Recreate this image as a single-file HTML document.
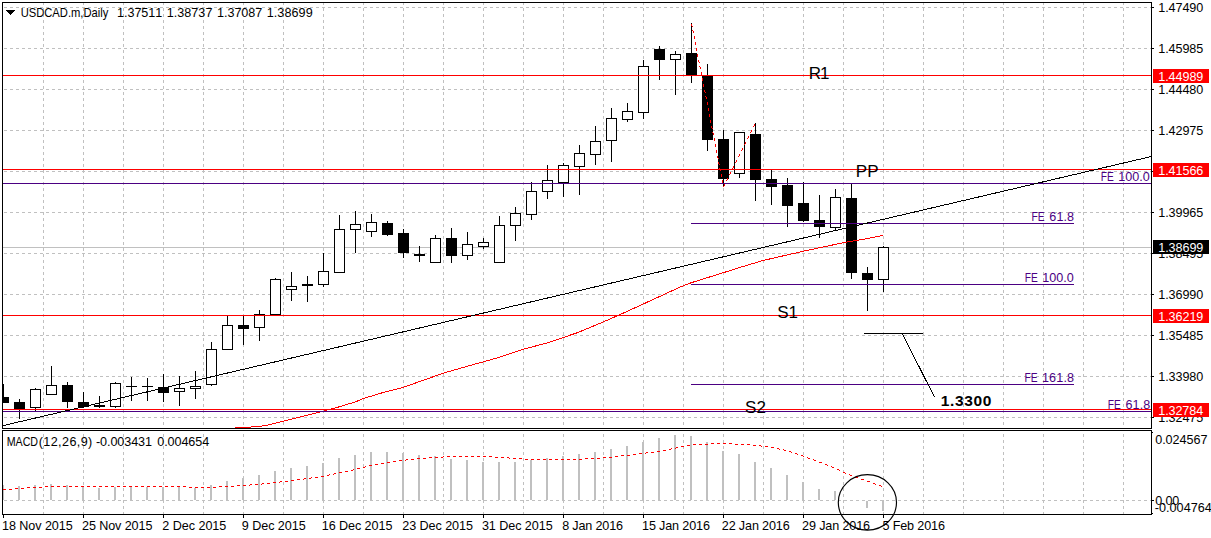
<!DOCTYPE html>
<html><head><meta charset="utf-8"><title>USDCAD.m,Daily</title>
<style>html,body{margin:0;padding:0;background:#fff}svg{display:block}text{font-family:"Liberation Sans",sans-serif;font-kerning:none}</style>
</head><body>
<svg width="1211" height="538" viewBox="0 0 1211 538">
<rect width="1211" height="538" fill="#fff"/>
<g stroke="#c0c0c0" stroke-width="1" stroke-dasharray="3 3" shape-rendering="crispEdges">
<line x1="4" y1="7.5" x2="1151" y2="7.5"/>
<line x1="4" y1="48.5" x2="1151" y2="48.5"/>
<line x1="4" y1="89.5" x2="1151" y2="89.5"/>
<line x1="4" y1="130.5" x2="1151" y2="130.5"/>
<line x1="4" y1="171.5" x2="1151" y2="171.5"/>
<line x1="4" y1="212.5" x2="1151" y2="212.5"/>
<line x1="4" y1="253.5" x2="1151" y2="253.5"/>
<line x1="4" y1="294.5" x2="1151" y2="294.5"/>
<line x1="4" y1="335.5" x2="1151" y2="335.5"/>
<line x1="4" y1="376.5" x2="1151" y2="376.5"/>
<line x1="4" y1="417.5" x2="1151" y2="417.5"/>
<line x1="43.5" y1="2" x2="43.5" y2="428"/>
<line x1="43.5" y1="434" x2="43.5" y2="514"/>
<line x1="83.5" y1="2" x2="83.5" y2="428"/>
<line x1="83.5" y1="434" x2="83.5" y2="514"/>
<line x1="123.5" y1="2" x2="123.5" y2="428"/>
<line x1="123.5" y1="434" x2="123.5" y2="514"/>
<line x1="163.5" y1="2" x2="163.5" y2="428"/>
<line x1="163.5" y1="434" x2="163.5" y2="514"/>
<line x1="203.5" y1="2" x2="203.5" y2="428"/>
<line x1="203.5" y1="434" x2="203.5" y2="514"/>
<line x1="243.5" y1="2" x2="243.5" y2="428"/>
<line x1="243.5" y1="434" x2="243.5" y2="514"/>
<line x1="283.5" y1="2" x2="283.5" y2="428"/>
<line x1="283.5" y1="434" x2="283.5" y2="514"/>
<line x1="323.5" y1="2" x2="323.5" y2="428"/>
<line x1="323.5" y1="434" x2="323.5" y2="514"/>
<line x1="363.5" y1="2" x2="363.5" y2="428"/>
<line x1="363.5" y1="434" x2="363.5" y2="514"/>
<line x1="403.5" y1="2" x2="403.5" y2="428"/>
<line x1="403.5" y1="434" x2="403.5" y2="514"/>
<line x1="443.5" y1="2" x2="443.5" y2="428"/>
<line x1="443.5" y1="434" x2="443.5" y2="514"/>
<line x1="483.5" y1="2" x2="483.5" y2="428"/>
<line x1="483.5" y1="434" x2="483.5" y2="514"/>
<line x1="523.5" y1="2" x2="523.5" y2="428"/>
<line x1="523.5" y1="434" x2="523.5" y2="514"/>
<line x1="563.5" y1="2" x2="563.5" y2="428"/>
<line x1="563.5" y1="434" x2="563.5" y2="514"/>
<line x1="603.5" y1="2" x2="603.5" y2="428"/>
<line x1="603.5" y1="434" x2="603.5" y2="514"/>
<line x1="643.5" y1="2" x2="643.5" y2="428"/>
<line x1="643.5" y1="434" x2="643.5" y2="514"/>
<line x1="683.5" y1="2" x2="683.5" y2="428"/>
<line x1="683.5" y1="434" x2="683.5" y2="514"/>
<line x1="723.5" y1="2" x2="723.5" y2="428"/>
<line x1="723.5" y1="434" x2="723.5" y2="514"/>
<line x1="763.5" y1="2" x2="763.5" y2="428"/>
<line x1="763.5" y1="434" x2="763.5" y2="514"/>
<line x1="803.5" y1="2" x2="803.5" y2="428"/>
<line x1="803.5" y1="434" x2="803.5" y2="514"/>
<line x1="843.5" y1="2" x2="843.5" y2="428"/>
<line x1="843.5" y1="434" x2="843.5" y2="514"/>
<line x1="883.5" y1="2" x2="883.5" y2="428"/>
<line x1="883.5" y1="434" x2="883.5" y2="514"/>
<line x1="923.5" y1="2" x2="923.5" y2="428"/>
<line x1="923.5" y1="434" x2="923.5" y2="514"/>
<line x1="963.5" y1="2" x2="963.5" y2="428"/>
<line x1="963.5" y1="434" x2="963.5" y2="514"/>
<line x1="1003.5" y1="2" x2="1003.5" y2="428"/>
<line x1="1003.5" y1="434" x2="1003.5" y2="514"/>
<line x1="1043.5" y1="2" x2="1043.5" y2="428"/>
<line x1="1043.5" y1="434" x2="1043.5" y2="514"/>
<line x1="1083.5" y1="2" x2="1083.5" y2="428"/>
<line x1="1083.5" y1="434" x2="1083.5" y2="514"/>
<line x1="1123.5" y1="2" x2="1123.5" y2="428"/>
<line x1="1123.5" y1="434" x2="1123.5" y2="514"/>
<line x1="4" y1="500.5" x2="1151" y2="500.5"/>
</g>
<g fill="#c0c0c0" shape-rendering="crispEdges">
<rect x="2" y="485" width="2" height="15"/>
<rect x="18" y="486" width="2" height="14"/>
<rect x="34" y="485" width="2" height="15"/>
<rect x="50" y="484" width="2" height="16"/>
<rect x="66" y="485" width="2" height="15"/>
<rect x="82" y="487" width="2" height="13"/>
<rect x="98" y="488" width="2" height="12"/>
<rect x="114" y="487" width="2" height="13"/>
<rect x="130" y="487" width="2" height="13"/>
<rect x="146" y="487" width="2" height="13"/>
<rect x="162" y="487" width="2" height="13"/>
<rect x="178" y="487" width="2" height="13"/>
<rect x="194" y="488" width="2" height="12"/>
<rect x="210" y="485" width="2" height="15"/>
<rect x="226" y="481" width="2" height="19"/>
<rect x="242" y="478" width="2" height="22"/>
<rect x="258" y="475" width="2" height="25"/>
<rect x="274" y="471" width="2" height="29"/>
<rect x="290" y="468" width="2" height="32"/>
<rect x="306" y="466" width="2" height="34"/>
<rect x="322" y="463" width="2" height="37"/>
<rect x="338" y="458" width="2" height="42"/>
<rect x="354" y="455" width="2" height="45"/>
<rect x="370" y="452" width="2" height="48"/>
<rect x="386" y="452" width="2" height="48"/>
<rect x="402" y="453" width="2" height="47"/>
<rect x="418" y="455" width="2" height="45"/>
<rect x="434" y="456" width="2" height="44"/>
<rect x="450" y="459" width="2" height="41"/>
<rect x="466" y="460" width="2" height="40"/>
<rect x="482" y="462" width="2" height="38"/>
<rect x="498" y="462" width="2" height="38"/>
<rect x="514" y="462" width="2" height="38"/>
<rect x="530" y="460" width="2" height="40"/>
<rect x="546" y="458" width="2" height="42"/>
<rect x="562" y="456" width="2" height="44"/>
<rect x="578" y="454" width="2" height="46"/>
<rect x="594" y="452" width="2" height="48"/>
<rect x="610" y="449" width="2" height="51"/>
<rect x="626" y="446" width="2" height="54"/>
<rect x="642" y="442" width="2" height="58"/>
<rect x="658" y="438" width="2" height="62"/>
<rect x="674" y="435" width="2" height="65"/>
<rect x="690" y="436" width="2" height="64"/>
<rect x="706" y="442" width="2" height="58"/>
<rect x="722" y="451" width="2" height="49"/>
<rect x="738" y="454" width="2" height="46"/>
<rect x="754" y="462" width="2" height="38"/>
<rect x="770" y="468" width="2" height="32"/>
<rect x="786" y="475" width="2" height="25"/>
<rect x="802" y="482" width="2" height="18"/>
<rect x="818" y="489" width="2" height="11"/>
<rect x="834" y="491" width="2" height="9"/>
<rect x="866" y="501" width="2" height="7"/>
<rect x="882" y="501" width="2" height="10"/>
</g>
<path d="M711 443h3v1h-3zM717 443h3v1h-3zM723 443h3v1h-3zM729 443h3v1h-3zM693 444h3v1h-3zM699 444h3v1h-3zM705 444h3v1h-3zM735 444h3v1h-3zM741 444h3v1h-3zM747 444h3v1h-3zM687 445h3v1h-3zM753 445h3v1h-3zM759 445h2v1h-2zM681 446h3v1h-3zM761 446h1v1h-1zM765 446h3v1h-3zM676 447h2v1h-2zM771 447h3v1h-3zM671 448h1v1h-1zM675 448h1v1h-1zM777 448h2v1h-2zM669 449h2v1h-2zM779 449h1v1h-1zM783 449h1v1h-1zM663 450h3v1h-3zM784 450h2v1h-2zM657 451h3v1h-3zM789 451h2v1h-2zM646 452h2v1h-2zM651 452h3v1h-3zM791 452h1v1h-1zM639 453h3v1h-3zM645 453h1v1h-1zM795 453h2v1h-2zM633 454h3v1h-3zM797 454h1v1h-1zM621 455h3v1h-3zM627 455h3v1h-3zM801 455h2v1h-2zM443 456h1v1h-1zM447 456h3v1h-3zM453 456h3v1h-3zM459 456h3v1h-3zM465 456h3v1h-3zM471 456h3v1h-3zM477 456h3v1h-3zM483 456h3v1h-3zM489 456h3v1h-3zM615 456h3v1h-3zM803 456h1v1h-1zM429 457h3v1h-3zM435 457h3v1h-3zM441 457h2v1h-2zM495 457h3v1h-3zM501 457h3v1h-3zM507 457h2v1h-2zM603 457h3v1h-3zM609 457h3v1h-3zM807 457h1v1h-1zM417 458h3v1h-3zM423 458h3v1h-3zM509 458h1v1h-1zM513 458h3v1h-3zM519 458h3v1h-3zM585 458h3v1h-3zM591 458h3v1h-3zM597 458h3v1h-3zM808 458h2v1h-2zM406 459h2v1h-2zM411 459h3v1h-3zM525 459h3v1h-3zM531 459h3v1h-3zM537 459h3v1h-3zM543 459h3v1h-3zM549 459h3v1h-3zM555 459h3v1h-3zM561 459h3v1h-3zM567 459h3v1h-3zM573 459h3v1h-3zM579 459h3v1h-3zM813 459h1v1h-1zM399 460h3v1h-3zM405 460h1v1h-1zM814 460h2v1h-2zM393 461h3v1h-3zM387 462h3v1h-3zM819 462h3v1h-3zM381 463h3v1h-3zM375 464h3v1h-3zM825 464h2v1h-2zM369 465h3v1h-3zM827 465h1v1h-1zM365 466h1v1h-1zM831 466h1v1h-1zM363 467h2v1h-2zM832 467h2v1h-2zM357 468h3v1h-3zM353 469h1v1h-1zM837 469h2v1h-2zM351 470h2v1h-2zM839 470h1v1h-1zM345 471h3v1h-3zM339 472h3v1h-3zM843 472h2v1h-2zM334 473h2v1h-2zM845 473h1v1h-1zM329 474h1v1h-1zM333 474h1v1h-1zM849 474h1v1h-1zM327 475h2v1h-2zM850 475h2v1h-2zM321 476h3v1h-3zM311 477h1v1h-1zM315 477h3v1h-3zM855 477h3v1h-3zM304 478h2v1h-2zM309 478h2v1h-2zM297 479h3v1h-3zM303 479h1v1h-1zM861 479h3v1h-3zM291 480h3v1h-3zM280 481h2v1h-2zM285 481h3v1h-3zM867 481h3v1h-3zM273 482h3v1h-3zM279 482h1v1h-1zM262 483h2v1h-2zM267 483h3v1h-3zM873 483h2v1h-2zM250 484h2v1h-2zM255 484h3v1h-3zM261 484h1v1h-1zM875 484h1v1h-1zM237 485h3v1h-3zM243 485h3v1h-3zM249 485h1v1h-1zM879 485h2v1h-2zM45 486h3v1h-3zM51 486h3v1h-3zM57 486h3v1h-3zM63 486h3v1h-3zM69 486h3v1h-3zM75 486h3v1h-3zM81 486h3v1h-3zM87 486h3v1h-3zM93 486h3v1h-3zM99 486h3v1h-3zM105 486h3v1h-3zM111 486h3v1h-3zM117 486h3v1h-3zM123 486h3v1h-3zM129 486h3v1h-3zM135 486h3v1h-3zM141 486h3v1h-3zM147 486h3v1h-3zM153 486h3v1h-3zM159 486h3v1h-3zM165 486h3v1h-3zM171 486h3v1h-3zM177 486h3v1h-3zM183 486h3v1h-3zM219 486h3v1h-3zM225 486h3v1h-3zM231 486h3v1h-3zM881 486h1v1h-1zM27 487h3v1h-3zM33 487h3v1h-3zM39 487h3v1h-3zM189 487h3v1h-3zM195 487h3v1h-3zM201 487h3v1h-3zM207 487h3v1h-3zM213 487h3v1h-3zM15 488h3v1h-3zM21 488h3v1h-3zM3 489h3v1h-3zM9 489h3v1h-3z" fill="#ff0000" shape-rendering="crispEdges"/>
<line x1="3" y1="247.5" x2="1151" y2="247.5" stroke="#c0c0c0" shape-rendering="crispEdges"/>
<g shape-rendering="crispEdges" stroke="#000" stroke-width="1">
<line x1="3.5" y1="384" x2="3.5" y2="403"/>
<rect x="-2" y="397" width="11" height="6" fill="#000" stroke="none"/>
<line x1="19.5" y1="399" x2="19.5" y2="419"/>
<rect x="14" y="402" width="11" height="7" fill="#000" stroke="none"/>
<line x1="35.5" y1="388" x2="35.5" y2="411"/>
<rect x="30.5" y="389.5" width="10" height="18" fill="#fff"/>
<line x1="51.5" y1="366" x2="51.5" y2="395"/>
<rect x="46.5" y="385.5" width="10" height="9" fill="#fff"/>
<line x1="67.5" y1="382" x2="67.5" y2="408"/>
<rect x="62" y="385" width="11" height="17" fill="#000" stroke="none"/>
<line x1="83.5" y1="392" x2="83.5" y2="408"/>
<rect x="78" y="402" width="11" height="5" fill="#000" stroke="none"/>
<line x1="99.5" y1="396" x2="99.5" y2="408"/>
<rect x="94" y="405" width="11" height="2" fill="#000" stroke="none"/>
<line x1="115.5" y1="382" x2="115.5" y2="408"/>
<rect x="110.5" y="383.5" width="10" height="23" fill="#fff"/>
<line x1="131.5" y1="377" x2="131.5" y2="401"/>
<rect x="126" y="386" width="11" height="1" fill="#000" stroke="none"/>
<line x1="147.5" y1="378" x2="147.5" y2="401"/>
<rect x="142" y="386" width="11" height="1" fill="#000" stroke="none"/>
<line x1="163.5" y1="374" x2="163.5" y2="402"/>
<rect x="158" y="387" width="11" height="6" fill="#000" stroke="none"/>
<line x1="179.5" y1="376" x2="179.5" y2="406"/>
<rect x="174.5" y="388.5" width="10" height="3" fill="#fff"/>
<line x1="195.5" y1="371" x2="195.5" y2="399"/>
<rect x="190.5" y="386.5" width="10" height="2" fill="#fff"/>
<line x1="211.5" y1="342" x2="211.5" y2="386"/>
<rect x="206.5" y="349.5" width="10" height="35" fill="#fff"/>
<line x1="227.5" y1="316" x2="227.5" y2="350"/>
<rect x="222.5" y="325.5" width="10" height="24" fill="#fff"/>
<line x1="243.5" y1="316" x2="243.5" y2="345"/>
<rect x="238" y="325" width="11" height="4" fill="#000" stroke="none"/>
<line x1="259.5" y1="310" x2="259.5" y2="341"/>
<rect x="254.5" y="314.5" width="10" height="13" fill="#fff"/>
<line x1="275.5" y1="278" x2="275.5" y2="315"/>
<rect x="270.5" y="279.5" width="10" height="35" fill="#fff"/>
<line x1="291.5" y1="272" x2="291.5" y2="301"/>
<rect x="286.5" y="286.5" width="10" height="3" fill="#fff"/>
<line x1="307.5" y1="276" x2="307.5" y2="302"/>
<rect x="302" y="284" width="11" height="2" fill="#000" stroke="none"/>
<line x1="323.5" y1="253" x2="323.5" y2="287"/>
<rect x="318.5" y="271.5" width="10" height="13" fill="#fff"/>
<line x1="339.5" y1="215" x2="339.5" y2="273"/>
<rect x="334.5" y="229.5" width="10" height="43" fill="#fff"/>
<line x1="355.5" y1="211" x2="355.5" y2="253"/>
<rect x="350.5" y="224.5" width="10" height="5" fill="#fff"/>
<line x1="371.5" y1="214" x2="371.5" y2="237"/>
<rect x="366.5" y="222.5" width="10" height="9" fill="#fff"/>
<line x1="387.5" y1="221" x2="387.5" y2="236"/>
<rect x="382" y="223" width="11" height="12" fill="#000" stroke="none"/>
<line x1="403.5" y1="229" x2="403.5" y2="258"/>
<rect x="398" y="233" width="11" height="20" fill="#000" stroke="none"/>
<line x1="419.5" y1="246" x2="419.5" y2="262"/>
<rect x="414" y="254" width="11" height="2" fill="#000" stroke="none"/>
<line x1="435.5" y1="235" x2="435.5" y2="263"/>
<rect x="430.5" y="238.5" width="10" height="24" fill="#fff"/>
<line x1="451.5" y1="228" x2="451.5" y2="263"/>
<rect x="446" y="238" width="11" height="18" fill="#000" stroke="none"/>
<line x1="467.5" y1="232" x2="467.5" y2="260"/>
<rect x="462.5" y="244.5" width="10" height="11" fill="#fff"/>
<line x1="483.5" y1="238" x2="483.5" y2="249"/>
<rect x="478.5" y="242.5" width="10" height="4" fill="#fff"/>
<line x1="499.5" y1="216" x2="499.5" y2="263"/>
<rect x="494.5" y="225.5" width="10" height="37" fill="#fff"/>
<line x1="515.5" y1="207" x2="515.5" y2="241"/>
<rect x="510.5" y="213.5" width="10" height="12" fill="#fff"/>
<line x1="531.5" y1="182" x2="531.5" y2="220"/>
<rect x="526.5" y="191.5" width="10" height="23" fill="#fff"/>
<line x1="547.5" y1="165" x2="547.5" y2="199"/>
<rect x="542.5" y="180.5" width="10" height="11" fill="#fff"/>
<line x1="563.5" y1="163" x2="563.5" y2="197"/>
<rect x="558.5" y="165.5" width="10" height="17" fill="#fff"/>
<line x1="579.5" y1="145" x2="579.5" y2="195"/>
<rect x="574.5" y="153.5" width="10" height="13" fill="#fff"/>
<line x1="595.5" y1="126" x2="595.5" y2="165"/>
<rect x="590.5" y="141.5" width="10" height="13" fill="#fff"/>
<line x1="611.5" y1="108" x2="611.5" y2="162"/>
<rect x="606.5" y="118.5" width="10" height="22" fill="#fff"/>
<line x1="627.5" y1="103" x2="627.5" y2="122"/>
<rect x="622.5" y="111.5" width="10" height="8" fill="#fff"/>
<line x1="643.5" y1="60" x2="643.5" y2="119"/>
<rect x="638.5" y="66.5" width="10" height="46" fill="#fff"/>
<line x1="659.5" y1="46" x2="659.5" y2="80"/>
<rect x="654" y="49" width="11" height="11" fill="#000" stroke="none"/>
<line x1="675.5" y1="51" x2="675.5" y2="95"/>
<rect x="670.5" y="54.5" width="10" height="5" fill="#fff"/>
<line x1="691.5" y1="23" x2="691.5" y2="83"/>
<rect x="686" y="53" width="11" height="23" fill="#000" stroke="none"/>
<line x1="707.5" y1="64" x2="707.5" y2="151"/>
<rect x="702" y="75" width="11" height="65" fill="#000" stroke="none"/>
<line x1="723.5" y1="130" x2="723.5" y2="186"/>
<rect x="718" y="139" width="11" height="40" fill="#000" stroke="none"/>
<line x1="739.5" y1="132" x2="739.5" y2="178"/>
<rect x="734.5" y="132.5" width="10" height="41" fill="#fff"/>
<line x1="755.5" y1="123" x2="755.5" y2="201"/>
<rect x="750" y="134" width="11" height="46" fill="#000" stroke="none"/>
<line x1="771.5" y1="170" x2="771.5" y2="205"/>
<rect x="766" y="179" width="11" height="8" fill="#000" stroke="none"/>
<line x1="787.5" y1="178" x2="787.5" y2="227"/>
<rect x="782" y="185" width="11" height="21" fill="#000" stroke="none"/>
<line x1="803.5" y1="182" x2="803.5" y2="222"/>
<rect x="798" y="203" width="11" height="18" fill="#000" stroke="none"/>
<line x1="819.5" y1="195" x2="819.5" y2="238"/>
<rect x="814" y="220" width="11" height="7" fill="#000" stroke="none"/>
<line x1="835.5" y1="189" x2="835.5" y2="231"/>
<rect x="830.5" y="197.5" width="10" height="30" fill="#fff"/>
<line x1="851.5" y1="184" x2="851.5" y2="279"/>
<rect x="846" y="198" width="11" height="75" fill="#000" stroke="none"/>
<line x1="867.5" y1="267" x2="867.5" y2="311"/>
<rect x="862" y="273" width="11" height="7" fill="#000" stroke="none"/>
<line x1="883.5" y1="246" x2="883.5" y2="292"/>
<rect x="878.5" y="247.5" width="10" height="32" fill="#fff"/>
</g>
<polyline points="235,427.7 243,427.55 259,426.45 267.4,425.2 283.6,421.06 299.8,417.07 316,412.96 323.4,411.1 339.6,406.7 355.8,401.75 363.3,398.6 380,393.4 403,387.4 443,373.3 460,368.3 497,358 523,349.3 548,342.7 578.5,332.3 603.6,321.8 618.6,315.2 643.7,303.8 660,296.3 680,287.1 691,282.8 723,272.8 740,267.4 763,260.5 787.3,254.9 803.5,251.2 819.7,247.7 835.9,244.3 851.5,241.2 867,238.7 883.4,235.3" fill="none" stroke="#ff0000" stroke-width="1" shape-rendering="crispEdges"/>
<g shape-rendering="crispEdges" stroke-width="1">
<line x1="3" y1="183.5" x2="1151" y2="183.5" stroke="#4b0082"/>
<line x1="3" y1="411.5" x2="1151" y2="411.5" stroke="#4b0082"/>
<line x1="691" y1="223.5" x2="1074" y2="223.5" stroke="#4b0082"/>
<line x1="691" y1="284.5" x2="1074" y2="284.5" stroke="#4b0082"/>
<line x1="691" y1="384.5" x2="1074" y2="384.5" stroke="#4b0082"/>
<line x1="3" y1="75.5" x2="1151" y2="75.5" stroke="#ff0000"/>
<line x1="3" y1="169.5" x2="1151" y2="169.5" stroke="#ff0000"/>
<line x1="3" y1="315.5" x2="1151" y2="315.5" stroke="#ff0000"/>
<line x1="3" y1="409.5" x2="1151" y2="409.5" stroke="#ff0000"/>
</g>
<line x1="2" y1="425.87" x2="1151" y2="156.57" stroke="#000" stroke-width="1" shape-rendering="crispEdges"/>
<path d="M691 24h1v1h-1zM691 25h1v1h-1zM692 26h1v1h-1zM692 30h1v1h-1zM693 31h1v1h-1zM693 32h1v1h-1zM694 36h1v1h-1zM694 37h1v1h-1zM694 38h1v1h-1zM695 42h1v1h-1zM695 43h1v1h-1zM695 44h1v1h-1zM696 48h1v1h-1zM696 49h1v1h-1zM696 50h1v1h-1zM697 54h1v1h-1zM697 55h1v1h-1zM697 56h1v1h-1zM698 60h1v1h-1zM698 61h1v1h-1zM699 62h1v1h-1zM699 66h1v1h-1zM700 67h1v1h-1zM700 68h1v1h-1zM701 72h1v1h-1zM701 73h1v1h-1zM701 74h1v1h-1zM702 78h1v1h-1zM702 79h1v1h-1zM702 80h1v1h-1zM703 84h1v1h-1zM703 85h1v1h-1zM703 86h1v1h-1zM704 90h1v1h-1zM704 91h1v1h-1zM705 92h1v1h-1zM705 96h1v1h-1zM706 97h1v1h-1zM706 98h1v1h-1zM707 102h1v1h-1zM707 103h1v1h-1zM707 104h1v1h-1zM708 108h1v1h-1zM708 109h1v1h-1zM708 110h1v1h-1zM709 114h1v1h-1zM709 115h1v1h-1zM709 116h1v1h-1zM710 120h1v1h-1zM710 121h1v1h-1zM710 122h1v1h-1zM754 124h1v1h-1zM754 125h1v1h-1zM711 126h1v1h-1zM753 126h1v1h-1zM711 127h1v1h-1zM712 128h1v1h-1zM751 130h1v1h-1zM751 131h1v1h-1zM712 132h1v1h-1zM750 132h1v1h-1zM713 133h1v1h-1zM713 134h1v1h-1zM748 136h1v1h-1zM748 137h1v1h-1zM714 138h1v1h-1zM747 138h1v1h-1zM714 139h1v1h-1zM714 140h1v1h-1zM745 142h1v1h-1zM745 143h1v1h-1zM715 144h1v1h-1zM744 144h1v1h-1zM715 145h1v1h-1zM715 146h1v1h-1zM742 148h1v1h-1zM742 149h1v1h-1zM716 150h1v1h-1zM741 150h1v1h-1zM716 151h1v1h-1zM716 152h1v1h-1zM739 154h1v1h-1zM739 155h1v1h-1zM717 156h1v1h-1zM738 156h1v1h-1zM717 157h1v1h-1zM718 158h1v1h-1zM736 160h1v1h-1zM736 161h1v1h-1zM718 162h1v1h-1zM735 162h1v1h-1zM718 163h1v1h-1zM719 164h1v1h-1zM733 166h1v1h-1zM733 167h1v1h-1zM719 168h1v1h-1zM732 168h1v1h-1zM720 169h1v1h-1zM720 170h1v1h-1zM730 172h1v1h-1zM730 173h1v1h-1zM721 174h1v1h-1zM729 174h1v1h-1zM721 175h1v1h-1zM721 176h1v1h-1zM727 178h1v1h-1zM727 179h1v1h-1zM722 180h1v1h-1zM726 180h1v1h-1zM722 181h1v1h-1zM722 182h1v1h-1zM724 184h1v1h-1zM724 185h1v1h-1zM723 186h1v1h-1z" fill="#ff0000" shape-rendering="crispEdges"/>
<line x1="864" y1="333.5" x2="923" y2="333.5" stroke="#000" stroke-width="1" shape-rendering="crispEdges"/>
<line x1="902.2" y1="333.5" x2="934.3" y2="396.7" stroke="#000" stroke-width="1" shape-rendering="crispEdges"/>
<g shape-rendering="crispEdges" fill="none" stroke="#000" stroke-width="1">
<rect x="2.5" y="2.5" width="1149" height="426"/>
<rect x="2.5" y="430.5" width="1149" height="84"/>
</g>
<rect x="0" y="0" width="2" height="538" fill="#fff"/>
<g shape-rendering="crispEdges" stroke="#000" stroke-width="1">
<line x1="1152" y1="7.5" x2="1154" y2="7.5"/>
<line x1="1152" y1="48.5" x2="1154" y2="48.5"/>
<line x1="1152" y1="89.5" x2="1154" y2="89.5"/>
<line x1="1152" y1="130.5" x2="1154" y2="130.5"/>
<line x1="1152" y1="171.5" x2="1154" y2="171.5"/>
<line x1="1152" y1="212.5" x2="1154" y2="212.5"/>
<line x1="1152" y1="253.5" x2="1154" y2="253.5"/>
<line x1="1152" y1="294.5" x2="1154" y2="294.5"/>
<line x1="1152" y1="335.5" x2="1154" y2="335.5"/>
<line x1="1152" y1="376.5" x2="1154" y2="376.5"/>
<line x1="1152" y1="417.5" x2="1154" y2="417.5"/>
<line x1="1152" y1="432.5" x2="1153" y2="432.5"/>
<line x1="1152" y1="500.5" x2="1154" y2="500.5"/>
<line x1="1152" y1="513.5" x2="1153" y2="513.5"/>
<line x1="3.5" y1="514" x2="3.5" y2="518"/>
<line x1="83.5" y1="514" x2="83.5" y2="518"/>
<line x1="163.5" y1="514" x2="163.5" y2="518"/>
<line x1="243.5" y1="514" x2="243.5" y2="518"/>
<line x1="323.5" y1="514" x2="323.5" y2="518"/>
<line x1="403.5" y1="514" x2="403.5" y2="518"/>
<line x1="483.5" y1="514" x2="483.5" y2="518"/>
<line x1="563.5" y1="514" x2="563.5" y2="518"/>
<line x1="643.5" y1="514" x2="643.5" y2="518"/>
<line x1="723.5" y1="514" x2="723.5" y2="518"/>
<line x1="803.5" y1="514" x2="803.5" y2="518"/>
<line x1="883.5" y1="514" x2="883.5" y2="518"/>
</g>
<ellipse cx="867.4" cy="502.4" rx="29.1" ry="27.7" fill="none" stroke="#000" stroke-width="1.15"/>
<text x="1158.24" y="12" font-size="12.6" letter-spacing="-0.082" fill="#000">1.47490</text>
<text x="1158.24" y="53" font-size="12.6" letter-spacing="-0.076" fill="#000">1.45985</text>
<text x="1158.24" y="94" font-size="12.6" letter-spacing="-0.082" fill="#000">1.44480</text>
<text x="1158.24" y="135" font-size="12.6" letter-spacing="-0.076" fill="#000">1.42975</text>
<text x="1158.24" y="176" font-size="12.6" letter-spacing="-0.082" fill="#000">1.41470</text>
<text x="1158.24" y="217" font-size="12.6" letter-spacing="-0.076" fill="#000">1.39965</text>
<text x="1158.24" y="258" font-size="12.6" letter-spacing="-0.076" fill="#000">1.38495</text>
<text x="1158.24" y="299" font-size="12.6" letter-spacing="-0.082" fill="#000">1.36990</text>
<text x="1158.24" y="340" font-size="12.6" letter-spacing="-0.076" fill="#000">1.35485</text>
<text x="1158.24" y="381" font-size="12.6" letter-spacing="-0.082" fill="#000">1.33980</text>
<text x="1158.24" y="422" font-size="12.6" letter-spacing="-0.076" fill="#000">1.32475</text>
<text x="1155.21" y="444" font-size="12.6" letter-spacing="-0.047" fill="#000">0.024567</text>
<text x="1155.21" y="505" font-size="12.6" letter-spacing="-0.146" fill="#000">0.00</text>
<text x="1154.64" y="512" font-size="12.6" letter-spacing="0.06" fill="#000">-0.004764</text>
<text x="2.04" y="530" font-size="12.6" letter-spacing="-0.076" fill="#000">18 Nov 2015</text>
<text x="82.07" y="530" font-size="12.6" letter-spacing="-0.109" fill="#000">25 Nov 2015</text>
<text x="162.37" y="530" font-size="12.6" letter-spacing="-0.054" fill="#000">2 Dec 2015</text>
<text x="241.81" y="530" font-size="12.6" letter-spacing="-0.058" fill="#000">9 Dec 2015</text>
<text x="321.74" y="530" font-size="12.6" letter-spacing="-0.076" fill="#000">16 Dec 2015</text>
<text x="402.37" y="530" font-size="12.6" letter-spacing="-0.089" fill="#000">23 Dec 2015</text>
<text x="481.92" y="530" font-size="12.6" letter-spacing="-0.064" fill="#000">31 Dec 2015</text>
<text x="562.15" y="530" font-size="12.6" letter-spacing="-0.161" fill="#000">8 Jan 2016</text>
<text x="642.04" y="530" font-size="12.6" letter-spacing="-0.145" fill="#000">15 Jan 2016</text>
<text x="721.77" y="530" font-size="12.6" letter-spacing="-0.137" fill="#000">22 Jan 2016</text>
<text x="802.07" y="530" font-size="12.6" letter-spacing="-0.137" fill="#000">29 Jan 2016</text>
<text x="882.5" y="530" font-size="12.6" letter-spacing="-0.144" fill="#000">5 Feb 2016</text>
<text transform="translate(20.64,17) scale(0.8904,1)" font-size="12.6" fill="#000">USDCAD.m,Daily</text>
<text x="117.04" y="17" font-size="12.6" letter-spacing="-0.045" fill="#000">1.37511</text>
<text x="166.74" y="17" font-size="12.6" letter-spacing="0.025" fill="#000">1.38737</text>
<text x="217.04" y="17" font-size="12.6" letter-spacing="-0.042" fill="#000">1.37087</text>
<text x="266.74" y="17" font-size="12.6" letter-spacing="0.068" fill="#000">1.38699</text>
<text transform="translate(6.63,446) scale(0.8488,1)" font-size="12.6" fill="#000">MACD</text>
<text x="38.72" y="446" font-size="12.6" letter-spacing="0.391" fill="#000">(12,26,9)</text>
<text x="95.94" y="446" font-size="12.6" letter-spacing="-0.084" fill="#000">-0.003431</text>
<text x="157.21" y="446" font-size="12.6" letter-spacing="-0.07" fill="#000">0.004654</text>
<path d="M6 10h9l-4.5 5z" fill="#000" shape-rendering="crispEdges"/>
<rect x="1153" y="69" width="56" height="14" fill="#ff0000" shape-rendering="crispEdges"/>
<text x="1158.24" y="81" font-size="12.6" letter-spacing="-0.065" fill="#fff">1.44989</text>
<rect x="1153" y="163" width="56" height="14" fill="#ff0000" shape-rendering="crispEdges"/>
<text x="1158.24" y="175" font-size="12.6" letter-spacing="-0.072" fill="#fff">1.41566</text>
<rect x="1153" y="309" width="56" height="14" fill="#ff0000" shape-rendering="crispEdges"/>
<text x="1158.24" y="321" font-size="12.6" letter-spacing="-0.065" fill="#fff">1.36219</text>
<rect x="1153" y="403" width="56" height="14" fill="#ff0000" shape-rendering="crispEdges"/>
<text x="1158.24" y="415" font-size="12.6" letter-spacing="-0.103" fill="#fff">1.32784</text>
<rect x="1153" y="240" width="56" height="14" fill="#000" shape-rendering="crispEdges"/>
<text x="1158.24" y="252" font-size="12.6" letter-spacing="-0.065" fill="#fff">1.38699</text>
<text transform="translate(1100.76,181) scale(0.8121,1)" font-size="12.6" fill="#4b0082">FE</text>
<text x="1118.14" y="181" font-size="12.6" letter-spacing="0.055" fill="#4b0082">100.0</text>
<text transform="translate(1107.76,409) scale(0.8121,1)" font-size="12.6" fill="#4b0082">FE</text>
<text x="1125.46" y="409" font-size="12.6" letter-spacing="0.121" fill="#4b0082">61.8</text>
<text transform="translate(1031.56,221) scale(0.8121,1)" font-size="12.6" fill="#4b0082">FE</text>
<text x="1049.26" y="221" font-size="12.6" letter-spacing="0.121" fill="#4b0082">61.8</text>
<text transform="translate(1024.86,282) scale(0.8121,1)" font-size="12.6" fill="#4b0082">FE</text>
<text x="1042.24" y="282" font-size="12.6" letter-spacing="-0.02" fill="#4b0082">100.0</text>
<text transform="translate(1024.56,382) scale(0.8121,1)" font-size="12.6" fill="#4b0082">FE</text>
<text x="1041.94" y="382" font-size="12.6" letter-spacing="0.169" fill="#4b0082">161.8</text>
<g font-size="17" fill="#000">
<text x="808.65" y="79">R<tspan dx="-1">1</tspan></text>
<text x="855.8" y="177">PP</text>
<text x="777.2" y="318">S1</text>
<text x="745.1" y="413">S2</text>
</g>
<text x="940.87" y="406" font-size="15.5" letter-spacing="0.611" fill="#000" font-weight="bold">1.3300</text>
</svg></body></html>
